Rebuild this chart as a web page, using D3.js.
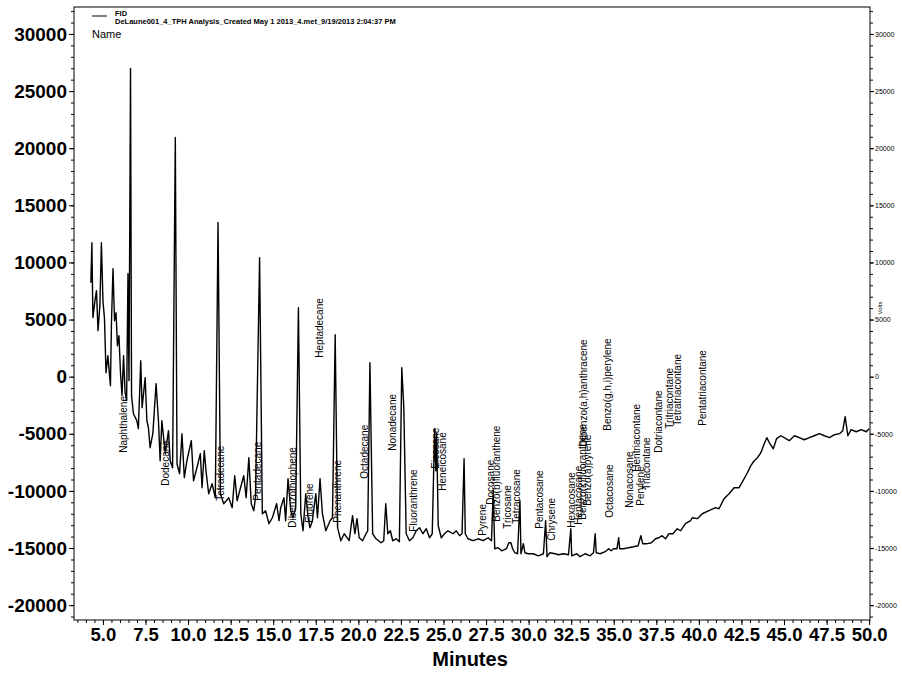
<!DOCTYPE html>
<html>
<head>
<meta charset="utf-8">
<script src="https://cdn.jsdelivr.net/npm/d3@7"></script>
<style>
  body { margin: 0; background: #fff; }
  svg { display: block; font-family: "Liberation Sans", Arial, sans-serif; }
</style>
</head>
<body>
<div id="chart"></div>
<script>
// retention time (minutes) and detector signal
const minutes = [
  4.29,4.35,4.41,4.53,4.62,4.71,4.82,4.91,5.00,5.09,
  5.18,5.29,5.44,5.50,5.59,5.68,5.77,5.85,5.94,6.03,
  6.12,6.21,6.30,6.39,6.47,6.53,6.62,6.68,6.79,6.99,
  7.08,7.22,7.30,7.48,7.58,7.67,7.77,7.93,8.12,8.26,
  8.36,8.46,8.66,8.85,8.95,9.09,9.25,9.35,9.50,9.64,
  9.78,9.93,10.19,10.32,10.52,10.72,10.82,10.95,11.07,11.21,
  11.41,11.60,11.76,11.90,12.09,12.39,12.59,12.74,12.88,13.08,
  13.27,13.41,13.57,13.71,13.86,13.96,14.20,14.36,14.55,14.75,
  14.95,15.20,15.34,15.44,15.63,15.73,15.87,16.03,16.16,16.32,
  16.48,16.62,16.75,16.91,17.05,17.16,17.30,17.50,17.60,17.75,
  17.89,18.09,18.34,18.48,18.64,18.78,18.97,19.17,19.46,19.66,
  19.80,19.92,20.05,20.25,20.45,20.55,20.68,20.84,21.04,21.33,
  21.49,21.61,21.73,21.88,22.02,22.22,22.41,22.55,22.67,22.81,
  23.00,23.20,23.40,23.59,23.79,23.99,24.18,24.34,24.48,24.55,
  24.60,24.69,24.87,25.06,25.26,25.56,25.75,25.95,26.09,26.21,
  26.28,26.44,26.74,27.03,27.33,27.62,27.82,27.92,28.01,28.21,
  28.41,28.70,28.84,28.96,29.06,29.19,29.35,29.49,29.55,29.69,
  29.78,29.98,30.28,30.57,30.87,31.00,31.08,31.25,31.55,31.75,
  32.04,32.34,32.48,32.53,32.83,33.02,33.32,33.61,33.81,33.91,
  33.97,34.20,34.50,34.70,34.85,34.99,35.19,35.29,35.35,35.58,
  35.87,36.17,36.43,36.59,36.70,36.96,37.21,37.45,37.65,37.84,
  38.04,38.24,38.47,38.73,38.92,39.21,39.51,39.61,39.91,40.20,
  40.59,40.98,41.18,41.48,41.77,42.07,42.36,42.66,42.85,43.05,
  43.25,43.44,43.64,43.84,43.99,44.17,44.37,44.56,44.82,45.11,
  45.31,45.61,45.90,46.19,46.49,46.78,47.08,47.37,47.67,47.96,
  48.26,48.45,48.59,48.75,48.94,49.24,49.53,49.83,50.00
];
const signal = [
  8230,11730,5170,6660,7530,4030,6220,11730,6660,5080,
  350,1840,-790,4730,9460,4900,5600,2710,3590,350,
  -1660,1840,-1400,-2100,9020,-350,26970,-1660,-3240,-3850,
  -4550,1400,-2710,-90,-3850,-4470,-6220,-4990,-610,-3850,
  -7360,-3850,-6740,-4730,-7360,-7970,20930,-7620,-8490,-4990,
  -8840,-7360,-5600,-9110,-7970,-6740,-9720,-6480,-8490,-10250,
  -9370,-10600,13490,-10250,-11120,-10600,-11470,-8670,-10860,-9720,
  -8670,-10600,-7090,-11120,-11730,-10600,10420,-12000,-11730,-12870,
  -12350,-11120,-12610,-11470,-10600,-12610,-8930,-11730,-12350,-11470,
  6040,-12000,-13490,-10250,-12350,-13220,-12610,-10250,-12350,-8930,
  -12000,-13490,-12610,-12350,3680,-13220,-14360,-13750,-14360,-12170,
  -13750,-12430,-14100,-14360,-13750,-13490,1230,-13750,-14190,-14540,
  -14360,-11120,-13750,-13490,-14360,-14190,-14450,790,-2710,-13750,
  -14360,-14100,-13490,-13220,-13750,-13310,-14100,-13750,-4550,-8230,
  -4990,-13050,-14100,-13750,-13490,-13750,-13490,-13920,-13750,-7180,
  -13750,-14190,-14360,-14190,-14360,-14100,-14360,-9980,-15060,-14970,
  -15240,-15060,-14540,-14540,-15060,-15410,-15500,-10860,-15500,-14620,
  -15410,-15500,-15500,-15680,-15500,-12610,-15760,-15410,-15500,-15590,
  -15500,-15590,-13310,-15680,-15500,-15760,-15500,-15680,-15410,-13750,
  -15410,-15500,-15320,-15060,-15240,-15060,-15060,-14100,-15060,-15060,
  -14970,-14890,-14800,-13920,-14620,-14620,-14540,-14190,-14100,-13920,
  -14190,-13750,-13750,-13310,-13490,-12870,-12610,-12350,-12430,-12000,
  -11730,-11470,-11560,-10680,-10250,-9720,-9720,-8930,-8410,-7790,
  -7360,-7090,-6660,-5870,-5340,-5870,-6310,-5430,-5170,-5430,
  -5600,-5170,-5340,-5520,-5340,-5170,-4990,-5170,-5340,-5080,
  -4990,-4730,-3500,-5170,-4640,-4820,-4640,-4820,-4550
];

// compound labels: name, retention time, level where the label text starts
const labelNames = [
  "Naphthalene","Dodecane","Tetradecane","Pentadecane","Dibenzothiophene",
  "Fluorene","Heptadecane","Phenanthrene","Octadecane","Nonadecane",
  "Fluoranthrene","Eicosane","Heneicosane","Pyrene","Docosane",
  "Benzo(b)fluoranthene","Tricosane","Tetracosane","Pentacosane","Chrysene",
  "Hexacosane","Heptacosane","Benzo(k)fluoranthene","Benzo(a)pyrene","Dibenzo(a,h)anthracene",
  "Benzo(g,h,i)perylene","Octacosane","Nonacosane","Hentriacontane","Perylene",
  "Triacontane","Dotriacontane","Tritriacontane","Tetratriacontane","Pentatriacontane"
];
const labelTimes = [
  6.44,8.86,12.10,14.29,16.35,
  17.32,17.94,19.00,20.54,22.19,
  23.43,24.72,25.13,27.49,27.97,
  28.32,28.97,29.50,30.85,31.56,
  32.74,33.15,33.39,33.68,33.45,
  34.85,34.98,36.16,36.57,36.75,
  37.10,37.84,38.49,38.93,40.41
];
const labelLevels = [
  -6660,-9550,-10860,-10860,-13220,
  -12790,1660,-12790,-8930,-6480,
  -13570,-8060,-9980,-13920,-11210,
  -12700,-13310,-12870,-13310,-14360,
  -13220,-12960,-12520,-11300,-6130,
  -4730,-12350,-11470,-8320,-11300,
  -9900,-6660,-4550,-4290,-4290
];

const yMajor = [-20000,-15000,-10000,-5000,0,5000,10000,15000,20000,25000,30000];
const xMajor = [5,7.5,10,12.5,15,17.5,20,22.5,25,27.5,30,32.5,35,37.5,40,42.5,45,47.5,50];

const width = 902, height = 673;
const plotL = 74, plotR = 870, plotT = 7, plotB = 620;

const x = d3.scaleLinear().domain([3.3, 50.05]).range([plotL, plotR]);
const y = d3.scaleLinear().domain([-21300, 32360]).range([plotB, plotT]);

const svg = d3.select("#chart").append("svg")
  .attr("width", width)
  .attr("height", height);

// minor ticks
svg.append("g")
  .attr("transform", "translate(" + plotL + ",0)")
  .call(d3.axisLeft(y).tickValues(d3.range(-21000, 32001, 1000)).tickSize(3).tickFormat(""))
  .call(g => g.select(".domain").remove());
svg.append("g")
  .attr("transform", "translate(" + plotR + ",0)")
  .call(d3.axisRight(y).tickValues(d3.range(-21000, 32001, 1000)).tickSize(3).tickFormat(""))
  .call(g => g.select(".domain").remove());
svg.append("g")
  .attr("transform", "translate(0," + plotB + ")")
  .call(d3.axisBottom(x).tickValues(d3.range(3.5, 50.01, 0.5)).tickSize(3).tickFormat(""))
  .call(g => g.select(".domain").remove());

// left axis
svg.append("g")
  .attr("transform", "translate(" + plotL + ",0)")
  .call(d3.axisLeft(y).tickValues(yMajor).tickSize(5).tickPadding(2).tickFormat(d => String(d)))
  .call(g => g.select(".domain").remove())
  .selectAll("text")
  .attr("font-size", 19)
  .attr("font-weight", "bold")
  .attr("fill", "#000");

// right axis
svg.append("g")
  .attr("transform", "translate(" + plotR + ",0)")
  .call(d3.axisRight(y).tickValues(yMajor).tickSize(4).tickPadding(1).tickFormat(d => String(d)))
  .call(g => g.select(".domain").remove())
  .selectAll("text")
  .attr("font-size", 7)
  .attr("fill", "#000");

// bottom axis
svg.append("g")
  .attr("transform", "translate(0," + plotB + ")")
  .call(d3.axisBottom(x).tickValues(xMajor).tickSize(5).tickPadding(3).tickFormat(d3.format(".1f")))
  .call(g => g.select(".domain").remove())
  .selectAll("text")
  .attr("font-size", 18.5)
  .attr("font-weight", "bold")
  .attr("fill", "#000");

svg.selectAll(".tick line").attr("stroke", "#000");

// frame
svg.append("rect")
  .attr("x", plotL).attr("y", plotT)
  .attr("width", plotR - plotL).attr("height", plotB - plotT)
  .attr("fill", "none")
  .attr("stroke", "#000")
  .attr("stroke-width", 1);

// trace
const pts = minutes.map((m, i) => [m, signal[i]]);
const line = d3.line().x(d => x(d[0])).y(d => y(d[1]));
svg.append("path")
  .datum(pts)
  .attr("d", line)
  .attr("fill", "none")
  .attr("stroke", "#000")
  .attr("stroke-width", 1.4)
  .attr("stroke-linejoin", "round");

// peak labels
svg.append("g").selectAll("text")
  .data(labelNames)
  .enter()
  .append("text")
  .attr("transform", (d, i) => "translate(" + x(labelTimes[i]) + "," + y(labelLevels[i]) + ") rotate(-90)")
  .attr("font-size", 10)
  .attr("fill", "#000")
  .text(d => d);

// legend / header
svg.append("line")
  .attr("x1", 92).attr("x2", 107).attr("y1", 16).attr("y2", 16)
  .attr("stroke", "#000");
svg.append("text")
  .attr("x", 115).attr("y", 16)
  .attr("font-size", 7.5).attr("font-weight", "bold")
  .text("FID");
svg.append("text")
  .attr("x", 115).attr("y", 24)
  .attr("font-size", 7.5).attr("font-weight", "bold")
  .text("DeLaune001_4_TPH Analysis_Created May 1 2013_4.met_9/19/2013 2:04:37 PM");
svg.append("text")
  .attr("x", 92).attr("y", 38)
  .attr("font-size", 11)
  .text("Name");

// axis titles
svg.append("text")
  .attr("x", 470).attr("y", 666)
  .attr("text-anchor", "middle")
  .attr("font-size", 20).attr("font-weight", "bold")
  .text("Minutes");
svg.append("text")
  .attr("transform", "translate(882,308) rotate(-90)")
  .attr("text-anchor", "middle")
  .attr("font-size", 6)
  .text("Volts");
</script>
</body>
</html>
